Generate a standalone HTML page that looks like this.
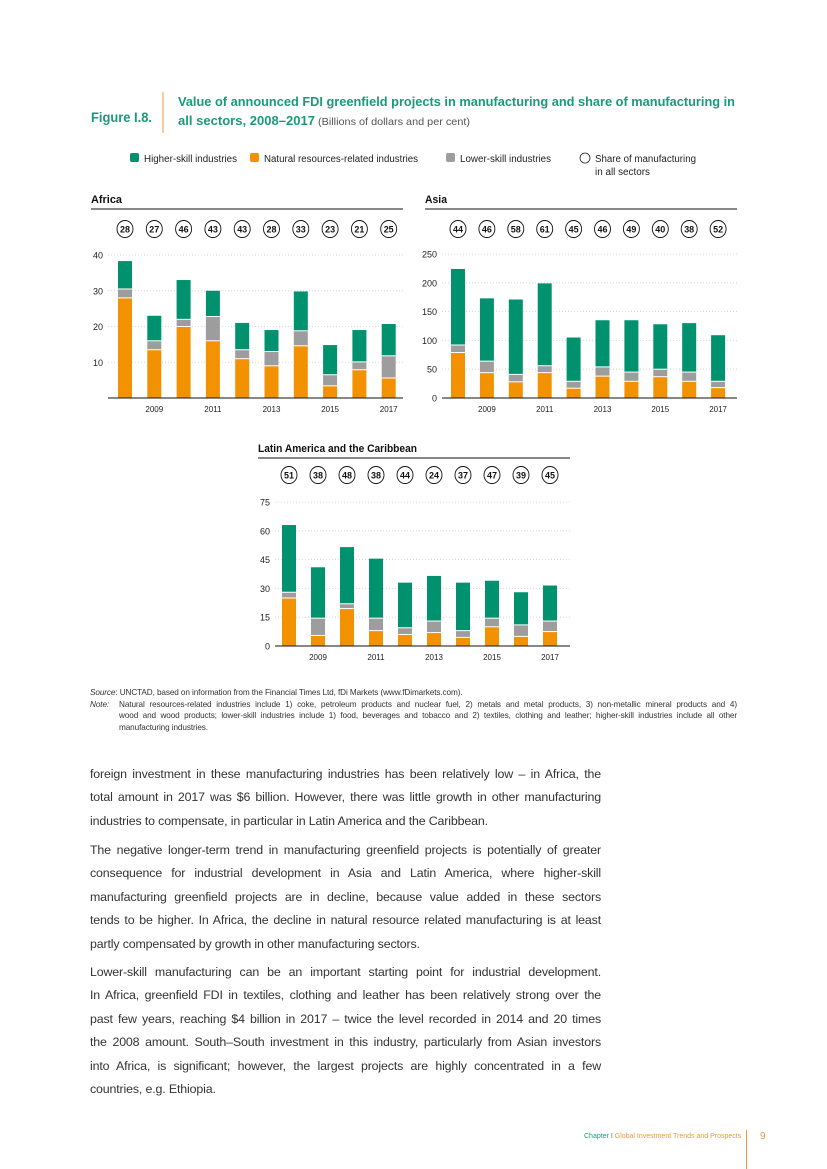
<!DOCTYPE html>
<html><head><meta charset="utf-8">
<style>
body{margin:0;background:#fff;width:827px;height:1169px;position:relative;overflow:hidden;font-family:"Liberation Sans",sans-serif;}
.p{position:absolute;left:90px;width:511px;font-size:12.4px;line-height:23.4px;color:#333;margin:0;letter-spacing:-0.15px;}
.p span,.nt span{display:block;white-space:nowrap;text-align:justify;text-align-last:justify;}
.p span.l,.nt span.l{text-align-last:left;}
svg text{font-family:"Liberation Sans Narrow","Liberation Sans",sans-serif;}
</style></head><body>
<svg id="fig" width="827" height="760" style="position:absolute;left:0;top:0">
 <text x="91" y="122" font-size="13.5" font-weight="bold" fill="#1a9a7a" textLength="61" lengthAdjust="spacingAndGlyphs">Figure I.8.</text>
 <line x1="163" y1="92" x2="163" y2="133" stroke="#e89a3c" stroke-width="1"/>
 <text x="178" y="106" font-size="13" font-weight="bold" fill="#1a9a7a" textLength="557" lengthAdjust="spacingAndGlyphs">Value of announced FDI greenfield projects in manufacturing and share of manufacturing in</text>
 <text x="178" y="125" font-size="13" font-weight="bold" fill="#1a9a7a" textLength="137" lengthAdjust="spacingAndGlyphs">all sectors, 2008–2017</text>
 <text x="318" y="125" font-size="10.5" fill="#555" textLength="152" lengthAdjust="spacingAndGlyphs">(Billions of dollars and per cent)</text>
 <g font-size="10" fill="#222">
  <rect x="130" y="153" width="9" height="9" rx="2" fill="#00916e"/>
  <text x="144" y="162" textLength="93" lengthAdjust="spacingAndGlyphs">Higher-skill industries</text>
  <rect x="250" y="153" width="9" height="9" rx="2" fill="#f39200"/>
  <text x="264" y="162" textLength="154" lengthAdjust="spacingAndGlyphs">Natural resources-related industries</text>
  <rect x="446" y="153" width="9" height="9" rx="2" fill="#9d9d9d"/>
  <text x="460" y="162" textLength="91" lengthAdjust="spacingAndGlyphs">Lower-skill industries</text>
  <circle cx="585" cy="158" r="5" fill="none" stroke="#222" stroke-width="0.8"/>
  <text x="595" y="162" textLength="101" lengthAdjust="spacingAndGlyphs">Share of manufacturing</text>
  <text x="595" y="175" textLength="55" lengthAdjust="spacingAndGlyphs">in all sectors</text>
 </g>
</svg>
<div class="nt" style="position:absolute;left:90px;top:687px;width:647px;font-size:8.2px;line-height:11.5px;color:#333;letter-spacing:-0.1px">
 <div><i>Source</i>: UNCTAD, based on information from the Financial Times Ltd, fDi Markets (www.fDimarkets.com).</div>
 <div style="display:flex"><i style="width:29px;flex:none">Note:</i><div style="flex:1"><span>Natural resources-related industries include 1) coke, petroleum products and nuclear fuel, 2) metals and metal products, 3) non-metallic mineral products and 4)</span><span>wood and wood products; lower-skill industries include 1) food, beverages and tobacco and 2) textiles, clothing and leather; higher-skill industries include all other</span><span class="l">manufacturing industries.</span></div></div>
</div>
<div class="p" style="top:763px"><span>foreign investment in these manufacturing industries has been relatively low – in Africa, the</span><span>total amount in 2017 was $6 billion. However, there was little growth in other manufacturing</span><span class="l">industries to compensate, in particular in Latin America and the Caribbean.</span></div>
<div class="p" style="top:839px"><span>The negative longer-term trend in manufacturing greenfield projects is potentially of greater</span><span>consequence for industrial development in Asia and Latin America, where higher-skill</span><span>manufacturing greenfield projects are in decline, because value added in these sectors</span><span>tends to be higher. In Africa, the decline in natural resource related manufacturing is at least</span><span class="l">partly compensated by growth in other manufacturing sectors.</span></div>
<div class="p" style="top:961px"><span>Lower-skill manufacturing can be an important starting point for industrial development.</span><span>In Africa, greenfield FDI in textiles, clothing and leather has been relatively strong over the</span><span>past few years, reaching $4 billion in 2017 – twice the level recorded in 2014 and 20 times</span><span>the 2008 amount. South–South investment in this industry, particularly from Asian investors</span><span>into Africa, is significant; however, the largest projects are highly concentrated in a few</span><span class="l">countries, e.g. Ethiopia.</span></div>
<div style="position:absolute;left:584px;top:1133px;font-size:7px;color:#1a9a7a">Chapter I <span style="color:#e89a3c">Global Investment Trends and Prospects</span></div>
<div style="position:absolute;left:746px;top:1130px;width:1px;height:39px;background:#e89a3c"></div>
<div style="position:absolute;left:760px;top:1131px;font-size:10px;color:#e89a3c">9</div>
<script>
const years=["2008","2009","2010","2011","2012","2013","2014","2015","2016","2017"];
const africaNat=[28,13.5,20,16,11,9,14.6,3.4,7.9,5.6];
const africaLow=[2.5,2.5,2,6.8,2.5,4,4.2,3.1,2.2,6.2];
const africaHigh=[7.8,7,11,7.2,7.5,6,11,8.3,8.9,8.9];
const africaShare=[28,27,46,43,43,28,33,23,21,25];
const africaTicks=[10,20,30,40];
const asiaNat=[79,44,28,44,17,38,29,37,29,18];
const asiaLow=[13,20,13,12,12,16,16,13,16,11];
const asiaHigh=[132,109,130,143,76,81,90,78,85,80];
const asiaShare=[44,46,58,61,45,46,49,40,38,52];
const asiaTicks=[0,50,100,150,200,250];
const lacNat=[25,5.5,19.5,8,6,7,4.5,10,5,7.5];
const lacLow=[3,9,2.5,6.5,3.5,6,3.5,4.5,6,5.5];
const lacHigh=[35,26.5,29.5,31,23.5,23.5,25,19.5,17,18.5];
const lacShare=[51,38,48,38,44,24,37,47,39,45];
const lacTicks=[0,15,30,45,60,75];
const NS="http://www.w3.org/2000/svg";
const svg=document.getElementById('fig');
function mk(tag,attrs,parent){const e=document.createElementNS(NS,tag);for(const k in attrs)e.setAttribute(k,attrs[k]);(parent||svg).appendChild(e);return e;}
function chart(name,title,tl,x0,x1,base,topY,maxV,firstC,step,circY,nat,low,high,share,ticks,titleX,titleY){
 const g=mk('g',{});
 
 
 const y=v=>base-(v/maxV)*(base-topY);
 const xc=i=>firstC+i*step;
 const t=mk('text',{x:titleX,y:titleY,'font-size':11,'font-weight':'bold',fill:'#111',textLength:tl,lengthAdjust:'spacingAndGlyphs'},g);t.textContent=title;
 
 
 mk('line',{x1:titleX,x2:x1,y1:titleY+6,y2:titleY+6,stroke:'#111','stroke-width':1},g);
 ticks.forEach(v=>{
  if(v>0)mk('line',{x1:x0,x2:x1,y1:y(v),y2:y(v),stroke:'#ccc','stroke-width':0.8,'stroke-dasharray':'1,2'},g);
  const tt=mk('text',{x:x0-5,y:y(v)+3.5,'font-size':9,fill:'#222','text-anchor':'end'},g);tt.textContent=v;
  
  
 });
 years.forEach((yr,i)=>{
  const c=xc(i),w=14;
  let acc=0;
  [[nat[i],'#f39200','natural'],[low[i],'#9d9d9d','lower'],[high[i],'#00916e','higher']].forEach(([v,col,nm])=>{
   const r=mk('rect',{x:c-w/2,y:y(acc+v),width:w,height:y(acc)-y(acc+v),fill:col},g);
   
   
   if(acc>0)mk('line',{x1:c-w/2,x2:c+w/2,y1:y(acc),y2:y(acc),stroke:'#fff','stroke-width':1},g);
   acc+=v;
  });
  const e=mk('ellipse',{cx:c,cy:circY,rx:8,ry:8.5,fill:'#fff',stroke:'#111','stroke-width':0.9},g);
  
  
  const st=mk('text',{x:c,y:circY+3.5,'font-size':9.5,'font-weight':'bold','text-anchor':'middle',fill:'#111',textLength:10,lengthAdjust:'spacingAndGlyphs'},g);st.textContent=share[i];
  if(i%2==1){const xl=mk('text',{x:c,y:base+14,'font-size':8,'text-anchor':'middle',fill:'#222'},g);xl.textContent=yr;
   
   }
 });
 mk('line',{x1:x0,x2:x1,y1:base,y2:base,stroke:'#111','stroke-width':1},g);
}
chart('africa','Africa',31,108,403,398,255,40,125,29.3,229,africaNat,africaLow,africaHigh,africaShare,africaTicks,91,203);
chart('asia','Asia',22,442,737,398,254,250,458,28.9,229,asiaNat,asiaLow,asiaHigh,asiaShare,asiaTicks,425,203);
chart('lac','Latin America and the Caribbean',159,275,570,646,502,75,289,29,475,lacNat,lacLow,lacHigh,lacShare,lacTicks,258,452);
</script>
</body></html>
